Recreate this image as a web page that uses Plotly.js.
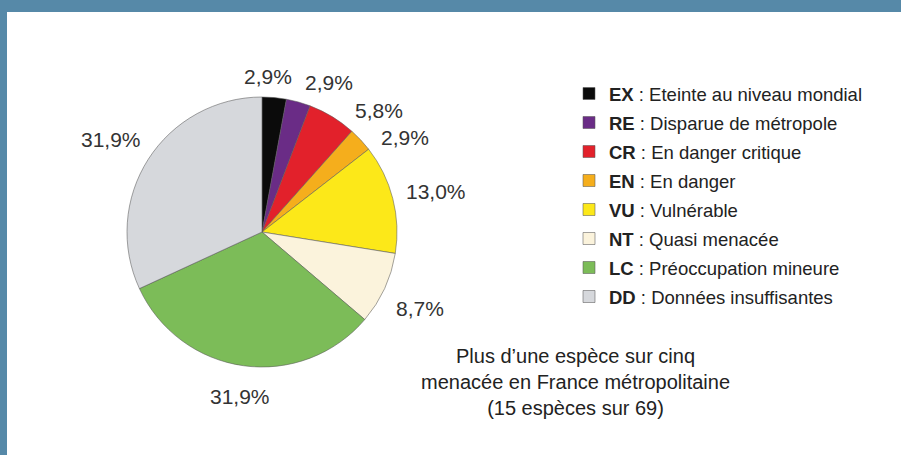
<!DOCTYPE html>
<html>
<head>
<meta charset="utf-8">
<script src="https://cdn.plot.ly/plotly-3.0.1.min.js"></script>
<style>
html,body{margin:0;padding:0;background:#fff;}
#chart{width:901px;height:455px;}
</style>
</head>
<body>
<div id="chart"></div>
<script>
// Data: species counts per IUCN category (69 species in total)
var codes = ["EX", "RE", "CR", "EN", "VU", "NT", "LC", "DD"];
var names = ["Eteinte au niveau mondial", "Disparue de métropole", "En danger critique",
             "En danger", "Vulnérable", "Quasi menacée", "Préoccupation mineure",
             "Données insuffisantes"];
var counts = [2, 2, 4, 2, 9, 6, 22, 22];
var colors = ["#0b0b0b", "#6a2c86", "#e2212b", "#f5ae1c", "#fce819", "#fbf3dc", "#7cbc58", "#d6d8dc"];
var noteLines = ["Plus d\u2019une espèce sur cinq", "menacée en France métropolitaine", "(15 espèces sur 69)"];

var labels = codes.map(function (c, i) {
  return '<span style="font-size:18.5px"><b>' + c + '</b> : ' + names[i] + '</span>';
});

var W = 901, H = 455;
var CX = 262, CY = 232, R = 135, GAP = 13;
var FONT = "Liberation Sans, Arial, sans-serif";
var PCT_SIZE = 21;

var trace = {
  type: "pie",
  labels: labels,
  values: counts,
  sort: false,
  direction: "clockwise",
  rotation: 0,
  marker: { colors: colors, line: { color: "rgba(90,90,90,0.55)", width: 1 } },
  textinfo: "none",
  hoverinfo: "skip",
  domain: { x: [(CX - R) / W, (CX + R) / W], y: [(H - CY - R) / H, (H - CY + R) / H] }
};

// ---- percentage labels outside each slice, along the slice mid-angle, fanned apart if they collide
var total = counts.reduce(function (a, b) { return a + b; }, 0);
var ctx = document.createElement("canvas").getContext("2d");
ctx.font = PCT_SIZE + "px 'Liberation Sans'";
var cum = 0;
var pcts = [], angles = [], widths = [];
counts.forEach(function (v) {
  angles.push((cum + v / 2) / total * 2 * Math.PI);
  cum += v;
  var t = (v / total * 100).toFixed(1).replace(".", ",") + "%";
  pcts.push(t);
  widths.push(ctx.measureText(t).width);
});
var HH = PCT_SIZE * 0.5;
function pos(i) {
  var a = angles[i], s = Math.sin(a), c = Math.cos(a);
  var r = R + GAP + Math.abs(s) * widths[i] / 2 + Math.abs(c) * HH;
  return [CX + r * s, CY - r * c];
}
for (var it = 0; it < 800; it++) {
  var moved = false;
  for (var i = 0; i < angles.length - 1; i++) {
    var p = pos(i), q = pos(i + 1);
    if (Math.abs(p[0] - q[0]) < (widths[i] + widths[i + 1]) / 2 + 13 &&
        Math.abs(p[1] - q[1]) < PCT_SIZE + 6) {
      angles[i] -= 0.0012; angles[i + 1] += 0.0048; moved = true;
    }
  }
  if (!moved) break;
}
var pctAnnotations = pcts.map(function (t, i) {
  var p = pos(i);
  return {
    xref: "paper", yref: "paper", x: p[0] / W, y: 1 - p[1] / H, yshift: -4,
    xanchor: "center", yanchor: "middle", showarrow: false, text: t,
    font: { family: FONT, size: PCT_SIZE, color: "#333" }
  };
});

var layout = {
  width: W, height: H,
  margin: { l: 0, r: 0, t: 0, b: 0 },
  paper_bgcolor: "#ffffff",
  separators: ", ",
  font: { family: FONT, color: "#222" },
  showlegend: true,
  legend: {
    x: 569 / W, y: 1 - 74 / H, xanchor: "left", yanchor: "top",
    bgcolor: "rgba(0,0,0,0)",
    font: { size: 20, color: "#222", family: FONT }
  },
  shapes: [
    { type: "rect", xref: "paper", yref: "paper", x0: 0, x1: 1, y0: 1 - 12 / H, y1: 1,
      fillcolor: "#5689a8", line: { width: 0 } },
    { type: "rect", xref: "paper", yref: "paper", x0: 0, x1: 7 / W, y0: 0, y1: 1,
      fillcolor: "#5689a8", line: { width: 0 } }
  ],
  annotations: pctAnnotations.concat([
    { xref: "paper", yref: "paper", x: 575 / W, y: 1 - 382 / H, xanchor: "center", yanchor: "middle",
      showarrow: false, align: "center", text: noteLines.join("<br>"),
      font: { size: 20, color: "#222", family: FONT } }
  ])
};

Plotly.newPlot("chart", [trace], layout, { displayModeBar: false, staticPlot: true });
</script>
</body>
</html>
